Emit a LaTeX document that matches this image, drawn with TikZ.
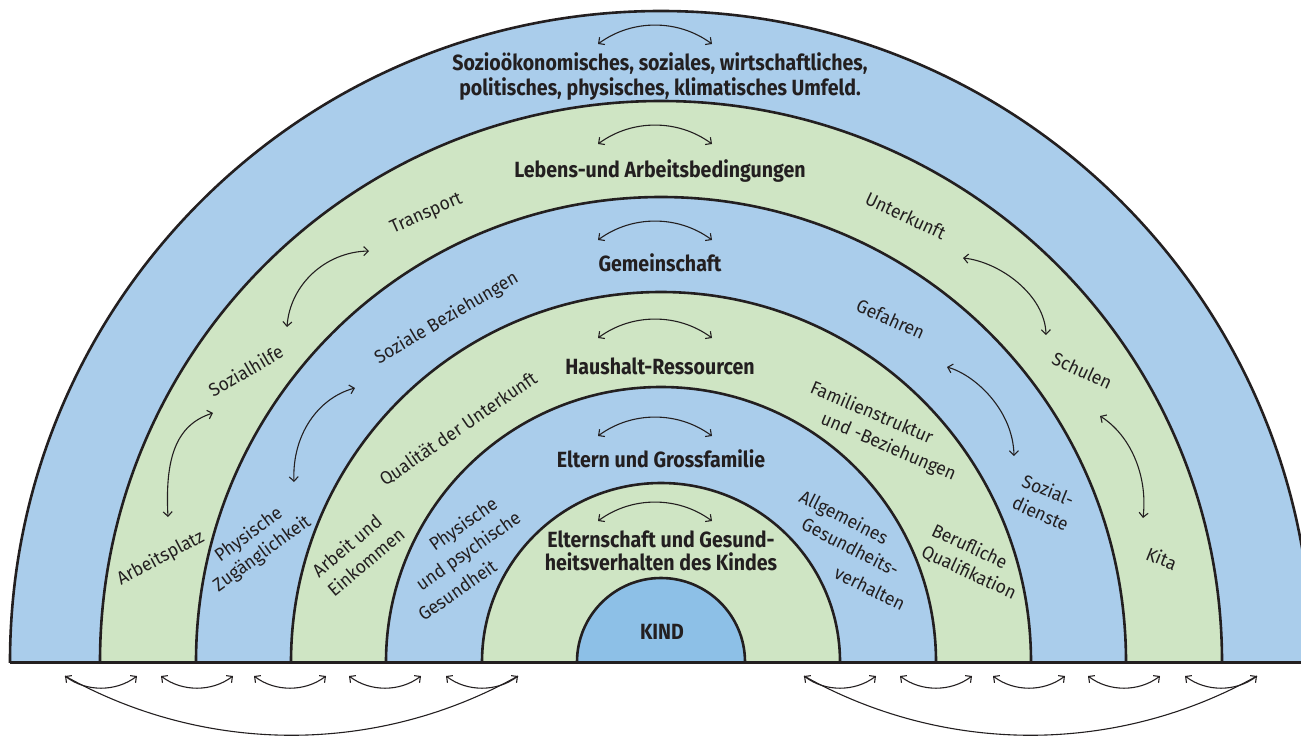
\documentclass[tikz,border=0pt]{standalone}
\usepackage{fontspec}
\setmainfont{Fira Sans}[FakeStretch=0.95]
\newfontfamily\headfont{Fira Sans}[FakeStretch=0.89]
\usetikzlibrary{arrows.meta}
\definecolor{ringblue}{RGB}{170,205,235}
\definecolor{ringgreen}{RGB}{207,229,196}
\definecolor{kidblue}{RGB}{141,192,231}
\definecolor{ink}{RGB}{35,31,32}

\begin{document}
\begin{tikzpicture}[x=1pt,y=-1pt,
  ring/.style={draw=ink, line width=2.6pt},
  head/.style={font=\headfont\bfseries\fontsize{22}{25}\selectfont, text=ink, inner sep=0pt, anchor=base},
  lbl/.style={font=\fontsize{18.5}{22}\selectfont, text=ink, inner sep=0pt},
  barb/.tip={Straight Barb[length=4.5pt,width=9pt]},
  dbl/.style={draw=ink, line width=1.1pt, barb-barb},
  link/.style={draw=ink, line width=1.1pt}]

\useasboundingbox (0,0) rectangle (1301,736);

% concentric half rings around the child
\begin{scope}
  \clip (0,0) rectangle (1301,662);
  \filldraw[ring, fill=ringblue]  (661,662) circle[radius=651pt];
  \filldraw[ring, fill=ringgreen] (661,662) circle[radius=561pt];
  \filldraw[ring, fill=ringblue]  (661,662) circle[radius=465pt];
  \filldraw[ring, fill=ringgreen] (661,662) circle[radius=370pt];
  \filldraw[ring, fill=ringblue]  (661,662) circle[radius=275pt];
  \filldraw[ring, fill=ringgreen] (661,662) circle[radius=179pt];
  \filldraw[ring, fill=kidblue]   (661,662) circle[radius=84pt];
\end{scope}
\draw[draw=ink, line width=3pt] (10,662) -- (1301,662);

% ring headings
\node[head] (h7a) at (660,70) {Sozioökonomisches, soziales, wirtschaftliches,};
\node[head] (h7b) at (660,95) {politisches, physisches, klimatisches Umfeld.};
\node[head] (h6) at (660,177) {Lebens-und Arbeitsbedingungen};
\node[head] (h5) at (660,271) {Gemeinschaft};
\node[head] (h4) at (660,374) {Haushalt-Ressourcen};
\node[head] (h3) at (661,467) {Eltern und Grossfamilie};
\node[head] (h2a) at (661,547) {Elternschaft und Gesund-};
\node[head] (h2b) at (661,570) {heitsverhalten des Kindes};
\node[head] (kid) at (662,639) {KIND};

% arcs above the headings
\foreach \n/\y in {7/44, 6/144, 5/240, 4/338, 3/436, 2/521}{
  \coordinate (t\n l) at (598,\y);
  \coordinate (t\n r) at (712,\y);
  \draw[dbl] (t\n l) .. controls (632,\y-25) and (678,\y-25) .. (t\n r);
}

% left side labels
\node[lbl, rotate=28] (arb) at (160.7,558.3) {Arbeitsplatz};
\node[lbl, rotate=30] (shi) at (245.7,370.7) {Sozialhilfe};
\node[lbl, rotate=24] (tra) at (426.7,214) {Transport};
\node[lbl, rotate=36] (pz1) at (249,535) {Physische};
\node[lbl, rotate=36] (pz2) at (262.3,554) {Zugänglichkeit};
\node[lbl, rotate=30.5] (sbz) at (446.7,318.3) {Soziale Beziehungen};
\node[lbl, rotate=40] (ae1) at (346.7,545.7) {Arbeit und};
\node[lbl, rotate=40] (ae2) at (365.7,561.7) {Einkommen};
\node[lbl, rotate=34.5] (qdu) at (458.3,429) {Qualität der Unterkunft};
\node[lbl, rotate=35] (pg1) at (464,525) {Physische};
\node[lbl, rotate=35] (pg2) at (469,551.7) {und psychische};
\node[lbl, rotate=35] (pg3) at (457,590) {Gesundheit};

% right side labels
\node[lbl, rotate=-25] (unt) at (905.7,215.7) {Unterkunft};
\node[lbl, rotate=-25] (sch) at (1082.3,370.7) {Schulen};
\node[lbl, rotate=-22] (kit) at (1161.7,558.3) {Kita};
\node[lbl, rotate=-24] (gef) at (890.7,319) {Gefahren};
\node[lbl, rotate=-22] (sd1) at (1048.3,490) {Sozial-};
\node[lbl, rotate=-24] (sd2) at (1040.7,513.3) {dienste};
\node[lbl, rotate=-23] (fb1) at (872.3,411.7) {Familienstruktur};
\node[lbl, rotate=-23] (fb2) at (888.3,447.3) {und -Beziehungen};
\node[lbl, rotate=-25] (bq1) at (970,545.7) {Berufliche};
\node[lbl, rotate=-25] (bq2) at (969,572.3) {Qualifikation};
\node[lbl, rotate=-27] (ag1) at (843.3,518.3) {Allgemeines};
\node[lbl, rotate=-27] (ag2) at (850.7,546.7) {Gesundheits-};
\node[lbl, rotate=-26] (ag3) at (870,588.3) {verhalten};

% links between neighbouring labels of a ring
\coordinate (la1) at (168,517);  \coordinate (la2) at (213,413);
\draw[dbl] (la1) .. controls (165,460) and (175,425) .. (la2);
\coordinate (lb1) at (287,327);  \coordinate (lb2) at (369,251);
\draw[dbl] (lb1) .. controls (290,285) and (325,252) .. (lb2);
\coordinate (lc1) at (294,482);  \coordinate (lc2) at (355,388);
\draw[dbl] (lc1) .. controls (292,435) and (318,398) .. (lc2);
\coordinate (ra1) at (963,258);  \coordinate (ra2) at (1046,335);
\draw[dbl] (ra1) .. controls (1000,262) and (1045,295) .. (ra2);
\coordinate (rb1) at (1100,416); \coordinate (rb2) at (1143,518);
\draw[dbl] (rb1) .. controls (1130,435) and (1148,475) .. (rb2);
\coordinate (rc1) at (947,367);  \coordinate (rc2) at (1014,456);
\draw[dbl] (rc1) .. controls (975,375) and (1013,410) .. (rc2);

% links across the ring boundaries below the base line
\foreach \i/\c in {1/101, 2/197, 3/290, 4/385, 5/482, 6/840, 7/936, 8/1029, 9/1124, 10/1221}{
  \coordinate (bl\i) at (\c-36,676);
  \coordinate (br\i) at (\c+36,676);
  \draw[dbl] (bl\i) .. controls (\c-15,692) and (\c+15,692) .. (br\i);
}
\draw[link] (bl1) .. controls (206,755) and (377,755) .. (br5);
\draw[link] (bl6) .. controls (945,755) and (1116,755) .. (br10);

\end{tikzpicture}
\end{document}
